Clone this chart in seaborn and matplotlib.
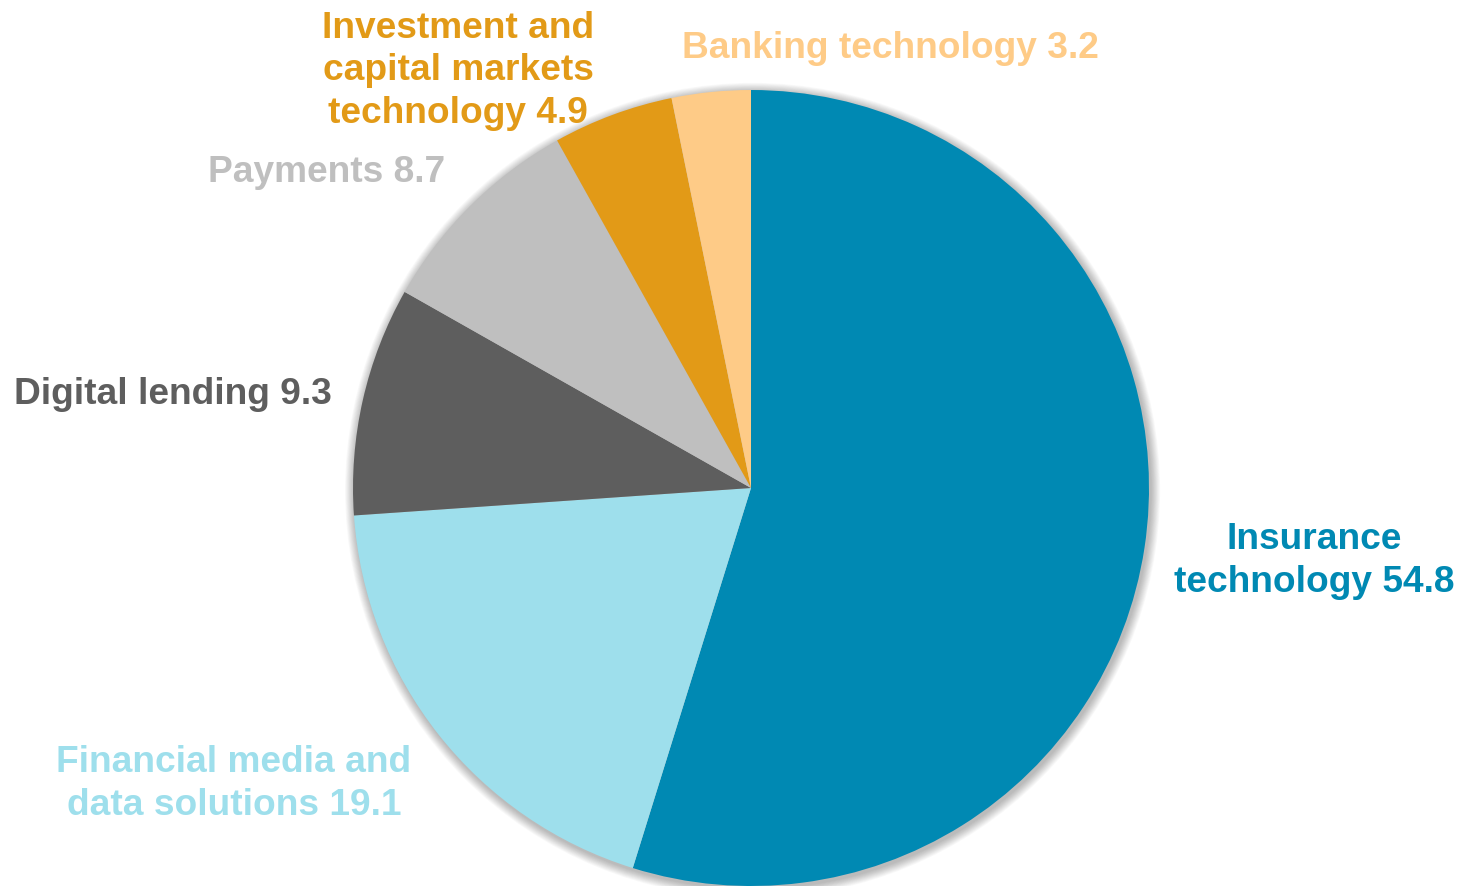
import matplotlib
matplotlib.use("Agg")
import matplotlib.pyplot as plt
from matplotlib.patches import Circle
import seaborn as sns

# Segment shares (%), drawn clockwise from 12 o'clock
segments = ["Insurance\ntechnology", "Financial media and\ndata solutions", "Digital lending",
            "Payments", "Investment and\ncapital markets\ntechnology", "Banking technology"]
shares = [54.8, 19.1, 9.3, 8.7, 4.9, 3.2]
colors = ["#0089B3", "#9EDFEC", "#5E5E5E", "#BFBFBF", "#E29A17", "#FECB87"]

# Label anchor points in pixels (x, y from the top-left)
label_px = [(1314, 561), (234, 784), (173, 394), (327, 173), (458, 71), (890, 48)]

sns.set_theme(style="white")
plt.rcParams["font.family"] = ["Liberation Sans", "DejaVu Sans"]

W, H = 1463, 886
fig = plt.figure(figsize=(W / 100, H / 100), dpi=100)
fig.patch.set_facecolor("white")

cx, cy, r = 751, 488, 398
ax = fig.add_axes([(cx - r) / W, (H - cy - r) / H, 2 * r / W, 2 * r / H])
ax.set_xlim(-1, 1)
ax.set_ylim(-1, 1)
ax.set_aspect("equal")
ax.axis("off")

# soft drop shadow under the pie
for k in range(12):
    rad = 1.0 + 0.024 * (1 - k / 12)
    ax.add_patch(Circle((0.004, -0.006), rad, color="black", alpha=0.022,
                        lw=0, zorder=0, clip_on=False))

palette = sns.color_palette(colors)
wedges, _ = ax.pie(shares, colors=palette, startangle=90, counterclock=False,
                   radius=1.0, wedgeprops=dict(linewidth=0, zorder=2))
for w in wedges:
    w.set_clip_on(False)
ax.set_xlim(-1, 1)
ax.set_ylim(-1, 1)

for name, val, col, (px, py) in zip(segments, shares, colors, label_px):
    fig.text(px / W, 1 - py / H, f"{name} {val}", color=col, fontsize=26.7,
             fontweight="bold", ha="center", va="center", linespacing=1.28,
             multialignment="center")

fig.savefig("out.png", dpi=100, facecolor="white")
